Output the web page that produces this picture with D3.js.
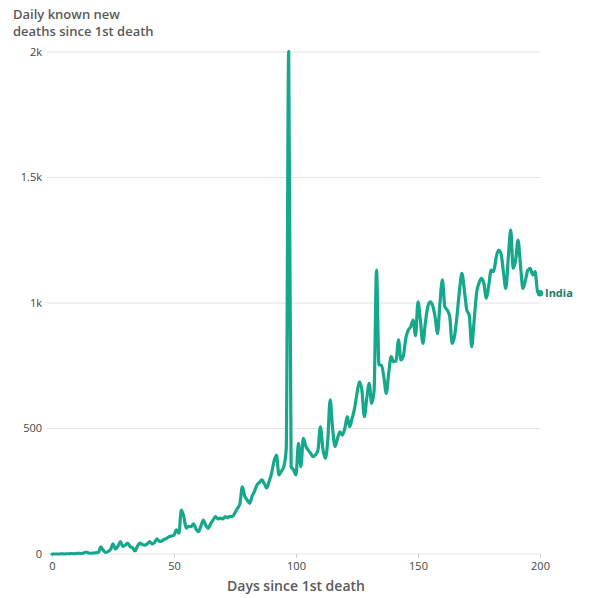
<!DOCTYPE html>
<html><head><meta charset="utf-8">
<script src="https://cdn.jsdelivr.net/npm/d3@7"></script>
<style>
body{margin:0;background:#fff;}
text{font-family:"Open Sans","Noto Sans",sans-serif;}
</style></head>
<body><svg id="c" width="600" height="598"></svg>
<script>
const deaths = [0,0,0,0,1,0,1,1,2,1,2,3,2,4,8,4,3,4,5,6,
28,15,6,10,18,40,20,30,49,30,35,43,30,25,12,30,43,38,35,40,
49,40,45,60,50,52,58,62,69,72,75,96,83,175,150,103,110,109,120,100,
89,110,135,115,102,120,135,149,140,143,140,149,145,150,149,165,182,200,268,230,
215,202,230,250,275,285,295,280,263,290,322,370,394,315,330,348,420,2003,348,335,
315,441,348,461,430,414,401,388,395,414,507,420,381,450,614,500,428,460,487,474,
500,547,507,540,580,640,686,653,547,620,680,600,650,1131,753,753,706,640,720,786,
766,770,853,773,790,860,892,905,932,870,1005,930,839,920,985,1005,990,945,879,1000,
1092,985,972,945,839,870,950,1050,1118,1052,972,952,826,930,1039,1080,1098,1078,1019,1070,
1131,1125,1180,1211,1198,1125,1058,1180,1291,1138,1170,1251,1151,1058,1090,1130,1138,1112,1125,1045,
1039];
const days = deaths.map((_, i) => i);
const xTicks = [0, 50, 100, 150, 200];
const yTicks = [0, 500, 1000, 1500, 2000];
const yTickLabels = ["0", "500", "1k", "1.5k", "2k"];
const seriesName = "India";

const svg = d3.select("#c");
const x = d3.scaleLinear().domain([0, 200]).range([52, 540]);
const y = d3.scaleLinear().domain([0, 2000]).range([554, 52]);

// title
const t = svg.append("text").attr("x", 13).attr("fill", "#5a5a5a")
  .attr("font-size", 13).attr("font-weight", 600);
t.append("tspan").attr("x", 13).attr("y", 19).text("Daily known new");
t.append("tspan").attr("x", 13).attr("y", 36).text("deaths since 1st death");

// y grid + labels
const gy = svg.append("g");
yTicks.forEach((v, i) => {
  gy.append("line").attr("x1", 47).attr("x2", x(200))
    .attr("y1", y(v)).attr("y2", y(v)).attr("stroke", "#e2e2e2").attr("stroke-width", 1);
  gy.append("text").attr("x", 42).attr("y", y(v)).attr("dy", "0.35em")
    .attr("text-anchor", "end").attr("font-size", 11).attr("fill", "#444")
    .text(yTickLabels[i]);
});

// x axis
const xAxis = d3.axisBottom(x).tickValues(xTicks).tickSize(4).tickPadding(4);
const gx = svg.append("g").attr("transform", `translate(0,${y(0)})`).call(xAxis);
gx.select(".domain").remove();
gx.selectAll(".tick line").attr("stroke", "#cfcfcf");
gx.selectAll(".tick text").attr("font-size", 11).attr("fill", "#444")
  .attr("font-family", '"Open Sans","Noto Sans",sans-serif');

svg.append("text").attr("x", 296).attr("y", 591).attr("text-anchor", "middle")
  .attr("font-size", 14).attr("font-weight", 600).attr("fill", "#5a5a5a")
  .text("Days since 1st death");

// line
const color = "#16a88b";
const line = d3.line().x((d, i) => x(days[i])).y(d => y(d)).curve(d3.curveMonotoneX);
svg.append("path").datum(deaths).attr("d", line).attr("fill", "none")
  .attr("stroke", color).attr("stroke-width", 3.2).attr("stroke-linejoin", "round")
  .attr("stroke-linecap", "round");

const last = deaths.length - 1;
svg.append("circle").attr("cx", x(days[last])).attr("cy", y(deaths[last])).attr("r", 3.2)
  .attr("fill", color);
svg.append("text").attr("x", x(days[last]) + 5).attr("y", y(deaths[last])).attr("dy", "0.35em")
  .attr("font-size", 11).attr("font-weight", 700).attr("fill", "#1d7a68").text(seriesName);
</script></body></html>
